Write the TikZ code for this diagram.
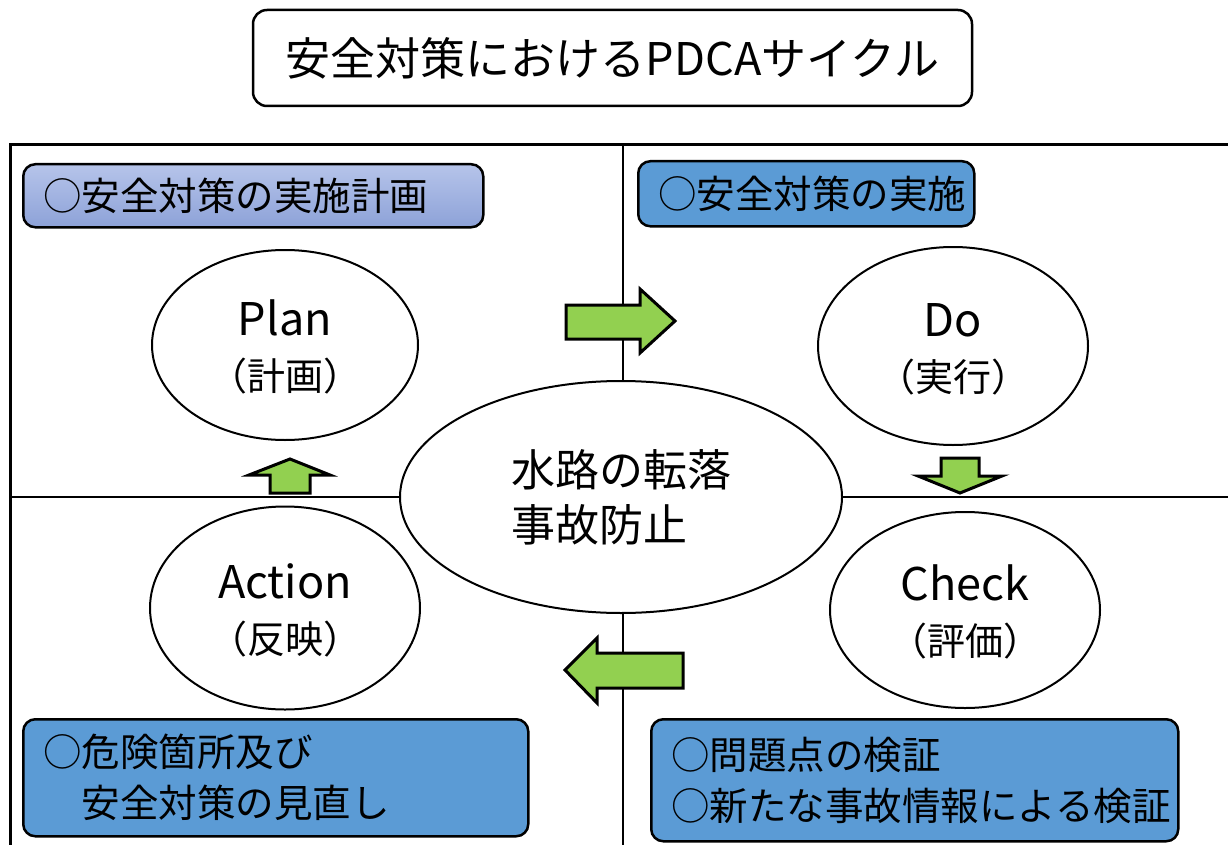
\documentclass[tikz,border=0pt]{standalone}
\usepackage{fontspec}
\setmainfont{Noto Sans CJK JP}
\usetikzlibrary{shapes.geometric}
\newcommand\stageword[1]{{\fontsize{45}{55}\selectfont #1}}
\definecolor{arrowgreen}{HTML}{92D050}
\definecolor{boxblue}{HTML}{5B9BD5}
\definecolor{planlight}{HTML}{B6C4EA}
\definecolor{plandark}{HTML}{8DA2D8}
\tikzset{
  stage/.style={ellipse,draw,fill=white,line width=2pt,inner sep=0pt,align=center,
    font=\fontsize{38}{55}\selectfont},
  labelbox/.style={draw,rounded corners=12pt,line width=2.5pt,anchor=north west,
    align=left,inner xsep=20pt,font=\fontsize{38.5}{51}\selectfont},
  flow/.style={draw,fill=arrowgreen,line width=3pt,line join=miter},
}
\begin{document}
\begin{tikzpicture}[x=1pt,y=-1pt]
\useasboundingbox (0,0) rectangle (1228,845);
% title
\node[draw,rounded corners=14pt,line width=2.5pt,minimum width=719pt,minimum height=96pt,
  font=\fontsize{45}{45}\selectfont] (title) at (612.5,58) {安全対策におけるPDCAサイクル};
% frame and cross
\draw[line width=3pt] (1228,145) -- (10,145) -- (10,845);
\draw[line width=2.5pt] (623,145) -- (623,845);
\draw[line width=2.5pt] (10,497) -- (1228,497);
% cycle
\node[stage,minimum width=266pt,minimum height=190pt] (plan) at (285,345) {\rule{0pt}{40pt}\stageword{Plan}\\（計画）};
\node[stage,minimum width=270pt,minimum height=198pt] (do) at (953,346) {\rule{0pt}{40pt}\stageword{Do}\\（実行）};
\node[stage,minimum width=270pt,minimum height=196pt] (check) at (965,610) {\rule{0pt}{40pt}\stageword{Check}\\（評価）};
\node[stage,minimum width=270pt,minimum height=203pt] (action) at (285,608) {\rule{0pt}{40pt}\stageword{Action}\\（反映）};
\node[stage,minimum width=442pt,minimum height=232pt,align=left,
  font=\fontsize{44}{55}\selectfont] (goal) at (621,497) {水路の転落\\事故防止};
% labels
\node[labelbox,top color=planlight,bottom color=plandark,minimum height=63pt,
  text width=420pt] (planlbl) at (22,163) {○安全対策の実施計画};
\node[labelbox,fill=boxblue,minimum height=65pt,text width=296pt] (dolbl) at (637,160) {○安全対策の実施};
\node[labelbox,fill=boxblue,minimum height=117pt,text width=465pt] (actionlbl) at (22,718)
  {○危険箇所及び\\\hspace*{1em}安全対策の見直し};
\node[labelbox,fill=boxblue,minimum height=122pt,text width=487pt] (checklbl) at (650,718)
  {○問題点の検証\\○新たな事故情報による検証};
% arrows
\draw[flow] (566,305) -- (640,305) -- (640,289) -- (675,321) -- (640,353) -- (640,339) -- (566,339) -- cycle;
\draw[flow] (941,458) -- (979,458) -- (979,476) -- (1002,476) -- (960,493) -- (918,476) -- (941,476) -- cycle;
\draw[flow] (683,653) -- (597,653) -- (597,638) -- (565,670) -- (597,703) -- (597,688) -- (683,688) -- cycle;
\draw[flow] (270,493) -- (270,475) -- (249,475) -- (290,459) -- (330,475) -- (310,475) -- (310,493) -- cycle;
\end{tikzpicture}
\end{document}
